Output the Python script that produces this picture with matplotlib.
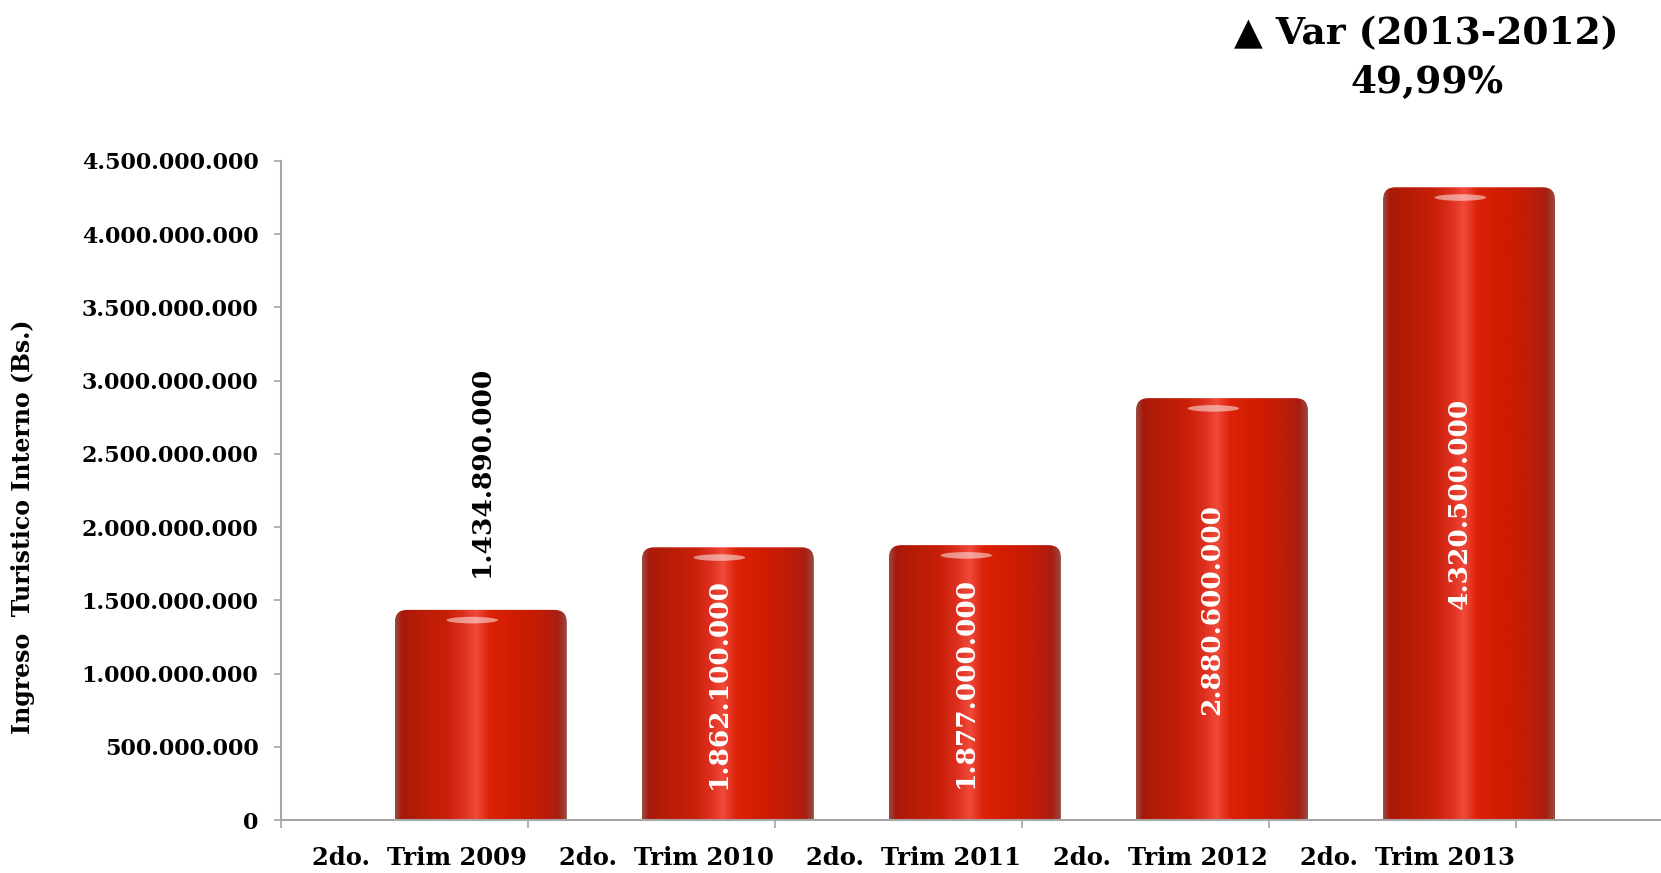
import numpy as np
import matplotlib
matplotlib.use("Agg")
import matplotlib.pyplot as plt
from matplotlib.colors import LinearSegmentedColormap
from matplotlib.patches import FancyBboxPatch, Ellipse
from matplotlib.ticker import FuncFormatter

# data
categorias = ["2do.  Trim 2009", "2do.  Trim 2010", "2do.  Trim 2011",
              "2do.  Trim 2012", "2do.  Trim 2013"]
ingreso = [1434890000, 1862100000, 1877000000, 2880600000, 4320500000]
etiquetas = ["1.434.890.000", "1.862.100.000", "1.877.000.000",
             "2.880.600.000", "4.320.500.000"]
variacion = "49,99%"

plt.rcParams['font.family'] = ['DejaVu Serif', 'DejaVu Sans']
plt.rcParams['font.weight'] = 'bold'

fig = plt.figure(figsize=(16.61, 8.73), dpi=100)
ax = fig.add_axes([0.169, 0.0607, 0.831, 0.7549])

n = len(ingreso)
ax.set_xlim(0, 5.587)
ax.set_ylim(0, 4.5e9)

# cylinder shading
cyl = LinearSegmentedColormap.from_list("cyl", [
    (0.0, "#9a4a40"), (0.04, "#a8190a"), (0.15, "#b71c06"), (0.30, "#c92008"),
    (0.40, "#de3020"), (0.47, "#f04a3a"), (0.55, "#dc2208"), (0.70, "#d01c00"),
    (0.85, "#c01c08"), (0.95, "#a81e12"), (1.0, "#9a4a40")])
grad = np.linspace(0, 1, 256).reshape(1, -1)

# data units per pixel, for rounded corners
p0 = ax.transData.transform((0, 0))
p1 = ax.transData.transform((1, 1e9))
aspect = (1e9 / (p1[1] - p0[1])) / (1 / (p1[0] - p0[0]))

width = 0.696
xpos = np.arange(n) + 0.81
for x, v in zip(xpos, ingreso):
    x0 = x - width / 2
    shape = FancyBboxPatch((x0, -3e8), width, v + 3e8,
                           boxstyle="round,pad=0,rounding_size=0.05",
                           mutation_aspect=aspect, facecolor="none",
                           edgecolor="none")
    ax.add_patch(shape)
    im = ax.imshow(grad, cmap=cyl, extent=(x0, x0 + width, 0, v),
                   aspect="auto", zorder=2)
    im.set_clip_path(shape)
    hl = Ellipse((x0 + 0.45 * width, v - 0.07e9), 0.3 * width, 0.045e9,
                 facecolor="white", edgecolor="none", alpha=0.5, zorder=3)
    ax.add_patch(hl)

ax.set_xlim(0, 5.587)
ax.set_ylim(0, 4.5e9)

# data labels
for i, (x, v, lab) in enumerate(zip(xpos, ingreso, etiquetas)):
    if i == 0:
        ax.annotate(lab, (x, v), xytext=(0, 24), textcoords="offset points",
                    rotation=90, ha="center", va="bottom", fontsize=19,
                    fontweight="bold", color="black")
    else:
        ax.text(x - 0.04, v / 2, lab, rotation=90, ha="center", va="center",
                fontsize=19, fontweight="bold", color="white", zorder=4)

# axes styling
for s in ["top", "right"]:
    ax.spines[s].set_visible(False)
ax.spines["left"].set_color("#a6a6a6")
ax.spines["bottom"].set_color("#a6a6a6")
ax.spines["left"].set_linewidth(1.5)
ax.spines["bottom"].set_linewidth(1.5)

ax.set_yticks(np.arange(0, 4.5e9 + 1, 5e8))
ax.yaxis.set_major_formatter(FuncFormatter(lambda v, p: f"{int(v):,}".replace(",", ".")))
ax.tick_params(axis="y", length=5, width=1.2, color="#a6a6a6", pad=11,
               labelsize=16)
ax.set_xticks(np.arange(0, n + 1))
ax.set_xticklabels([])
ax.tick_params(axis="x", which="major", length=6, width=1.2, color="#a6a6a6")
ax.set_xticks(np.arange(n) + 0.56, minor=True)
ax.set_xticklabels(categorias, minor=True)
ax.tick_params(axis="x", which="minor", length=0, pad=19, labelsize=17.5)
for t in ax.get_xticklabels(minor=True) + ax.get_yticklabels():
    t.set_fontweight("bold")

fig.text(0.014, 0.397, "Ingreso  Turistico Interno (Bs.)", rotation=90,
         ha="center", va="center", fontsize=17, fontweight="bold")

fig.text(0.859, 0.962, "▲ Var (2013-2012)", ha="center", va="center",
         fontsize=27, fontweight="bold")
fig.text(0.859, 0.905, variacion, ha="center", va="center",
         fontsize=27, fontweight="bold")

fig.savefig("out.png", dpi=100, facecolor="white")
